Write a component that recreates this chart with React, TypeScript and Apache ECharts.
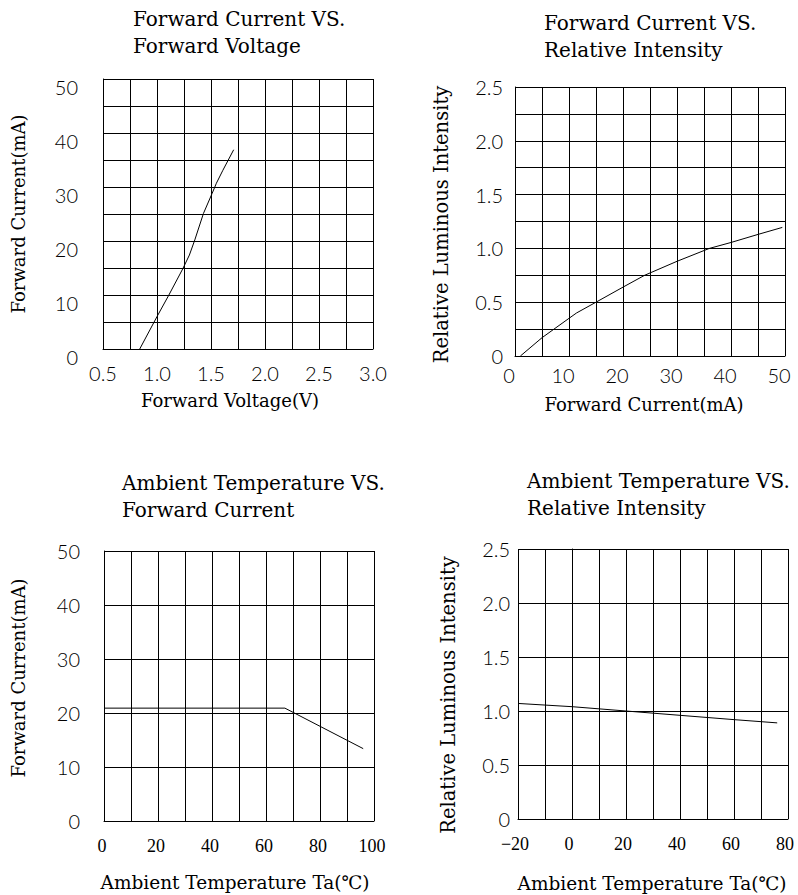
import React, { useEffect, useRef } from "react";
import * as echarts from "echarts";

// Chart 1: Forward Current vs Forward Voltage
const fvVoltage = [0.84, 1.0, 1.11, 1.24, 1.3, 1.35, 1.43, 1.51, 1.55, 1.61, 1.71];
const fvCurrent = [0, 6.0, 10.0, 14.9, 17.4, 20.2, 25.1, 28.8, 30.7, 33.1, 36.9];

// Chart 2: Forward Current vs Relative Intensity
const fiCurrent = [1, 5, 10, 11.4, 15, 20, 24, 30, 36, 40, 45, 49.5];
const fiIntensity = [0, 0.17, 0.35, 0.4, 0.5, 0.64, 0.75, 0.88, 1.0, 1.055, 1.13, 1.195];

// Chart 3: Ambient Temperature vs Forward Current
const taTemp = [0, 67, 96];
const taCurrent = [20.9, 20.9, 13.4];

// Chart 4: Ambient Temperature vs Relative Intensity
const riTemp = [-20, 0, 20, 40, 60, 76];
const riIntensity = [1.07, 1.04, 1.0, 0.96, 0.92, 0.89];

const titles = [
  "Forward Current VS.\nForward Voltage",
  "Forward Current VS.\nRelative Intensity",
  "Ambient Temperature VS.\nForward Current",
  "Ambient Temperature VS.\nRelative Intensity",
];
const xNames = ["Forward Voltage(V)", "Forward Current(mA)", "Ambient Temperature Ta(℃)", "Ambient Temperature Ta(℃)"];
const yNames = ["Forward Current(mA)", "Relative Luminous Intensity", "Forward Current(mA)", "Relative Luminous Intensity"];

const TXT = "'DejaVu Serif', 'Liberation Serif', 'Noto Sans CJK SC', serif";
const NUM = "Lato, 'Noto Sans', sans-serif";
const SERIF = "'Liberation Serif', 'DejaVu Serif', serif";

const lineStyle = { color: "#000", width: 1 };

function near(v: number, step: number) {
  const r = v / step;
  return Math.abs(r - Math.round(r)) < 1e-6;
}

export default function App() {
  const ref = useRef<HTMLDivElement>(null);
  useEffect(() => {
    if (!ref.current) return;
    const chart = echarts.init(ref.current, undefined, { renderer: "svg" });

    const grids = [
      { left: 103, top: 79, width: 270, height: 270 },
      { left: 515, top: 87, width: 270, height: 269 },
      { left: 104, top: 551, width: 270, height: 270 },
      { left: 518, top: 549, width: 270, height: 270 },
    ];

    const xCfg = [
      { min: 0.5, max: 3.0, interval: 0.25, fmt: (v: number) => (near(v, 0.5) ? v.toFixed(1) : ""), margin: 14, font: NUM, size: 20, gap: 42, lpad: [0, 0, 0, 0], npad: [0, 16, 0, 0], nsize: 18 },
      { min: 0, max: 50, interval: 5, fmt: (v: number) => (near(v, 10) ? String(v) : ""), margin: 9, font: NUM, size: 20, gap: 39, lpad: [0, 12, 0, 0], npad: [0, 12, 0, 0], nsize: 18 },
      { min: 0, max: 100, interval: 10, fmt: (v: number) => (near(v, 20) ? String(v) : ""), margin: 16, font: SERIF, size: 18, gap: 52, lpad: [0, 4, 0, 0], npad: [0, 8, 0, 0], nsize: 18.5 },
      { min: -20, max: 80, interval: 10, fmt: (v: number) => (near(v, 20) ? (v < 0 ? "−" + Math.abs(v) : String(v)) : ""), margin: 16, font: SERIF, size: 18, gap: 55, lpad: [0, 6, 0, 0], npad: [0, 2, 0, 0], nsize: 18.5 },
    ];
    const yCfg = [
      { min: 0, max: 50, interval: 5, fmt: (v: number) => (near(v, 10) ? String(v) : ""), margin: 25, gap: 76, va: "top", lh: 16, npad: [0, 0, 0, 0], nsize: 18 },
      { min: 0, max: 2.5, interval: 0.25, fmt: (v: number) => (near(v, 0.5) ? (v === 0 ? "0" : v.toFixed(1)) : ""), margin: 12, gap: 64, va: "middle", lh: 20, npad: [0, 6, 0, 0], nsize: 19.5 },
      { min: 0, max: 50, interval: 10, fmt: (v: number) => String(v), margin: 24, gap: 77, va: "middle", lh: 20, npad: [0, 0, 0, 16], nsize: 18 },
      { min: 0, max: 2.5, interval: 0.5, fmt: (v: number) => (v === 0 ? "0" : v.toFixed(1)), margin: 8, gap: 60, va: "middle", lh: 20, npad: [0, 22, 0, 0], nsize: 19.5 },
    ];

    const titleTops = [5, 9, 469, 467];
    const titleLefts = [133, 544, 122, 527];

    const option: any = {
      animation: false,
      backgroundColor: "#fff",
      title: titles.map((t, i) => ({
        text: t,
        left: titleLefts[i],
        top: titleTops[i],
        padding: 0,
        textStyle: { fontFamily: TXT, fontSize: 20, fontWeight: "normal", color: "#000", lineHeight: 27 },
      })),
      grid: grids,
      xAxis: xCfg.map((c, i) => ({
        type: "value",
        gridIndex: i,
        min: c.min,
        max: c.max,
        interval: c.interval,
        name: xNames[i],
        nameLocation: "middle",
        nameGap: c.gap,
        nameTextStyle: { fontFamily: TXT, fontSize: c.nsize, color: "#000", padding: c.npad },
        axisLine: { show: true, lineStyle },
        axisTick: { show: false },
        axisLabel: { formatter: c.fmt, margin: c.margin, padding: c.lpad, fontFamily: c.font, fontSize: c.size, fontWeight: c.font === NUM ? 300 : "normal", color: "#000", showMinLabel: true, showMaxLabel: true },
        splitLine: { show: true, lineStyle },
      })),
      yAxis: yCfg.map((c, i) => ({
        type: "value",
        gridIndex: i,
        min: c.min,
        max: c.max,
        interval: c.interval,
        name: yNames[i],
        nameLocation: "middle",
        nameGap: c.gap,
        nameRotate: 90,
        nameTextStyle: { fontFamily: TXT, fontSize: c.nsize, color: "#000", padding: c.npad },
        axisLine: { show: true, lineStyle },
        axisTick: { show: false },
        axisLabel: { formatter: c.fmt, margin: c.margin, verticalAlign: c.va, lineHeight: c.lh, fontFamily: NUM, fontSize: 20, fontWeight: 300, color: "#000", showMinLabel: true, showMaxLabel: true },
        splitLine: { show: true, lineStyle },
      })),
      series: [
        { x: fvVoltage, y: fvCurrent },
        { x: fiCurrent, y: fiIntensity },
        { x: taTemp, y: taCurrent },
        { x: riTemp, y: riIntensity },
      ].map((s, i) => ({
        type: "line",
        xAxisIndex: i,
        yAxisIndex: i,
        data: s.x.map((xv, k) => [xv, s.y[k]]),
        showSymbol: false,
        symbol: "none",
        lineStyle: { color: "#000", width: 1 },
        silent: true,
      })),
    };

    chart.setOption(option);
    return () => chart.dispose();
  }, []);

  return (
    <div
      ref={ref}
      style={{ position: "fixed", left: 0, top: 0, width: 798, height: 895, background: "#fff" }}
    />
  );
}
